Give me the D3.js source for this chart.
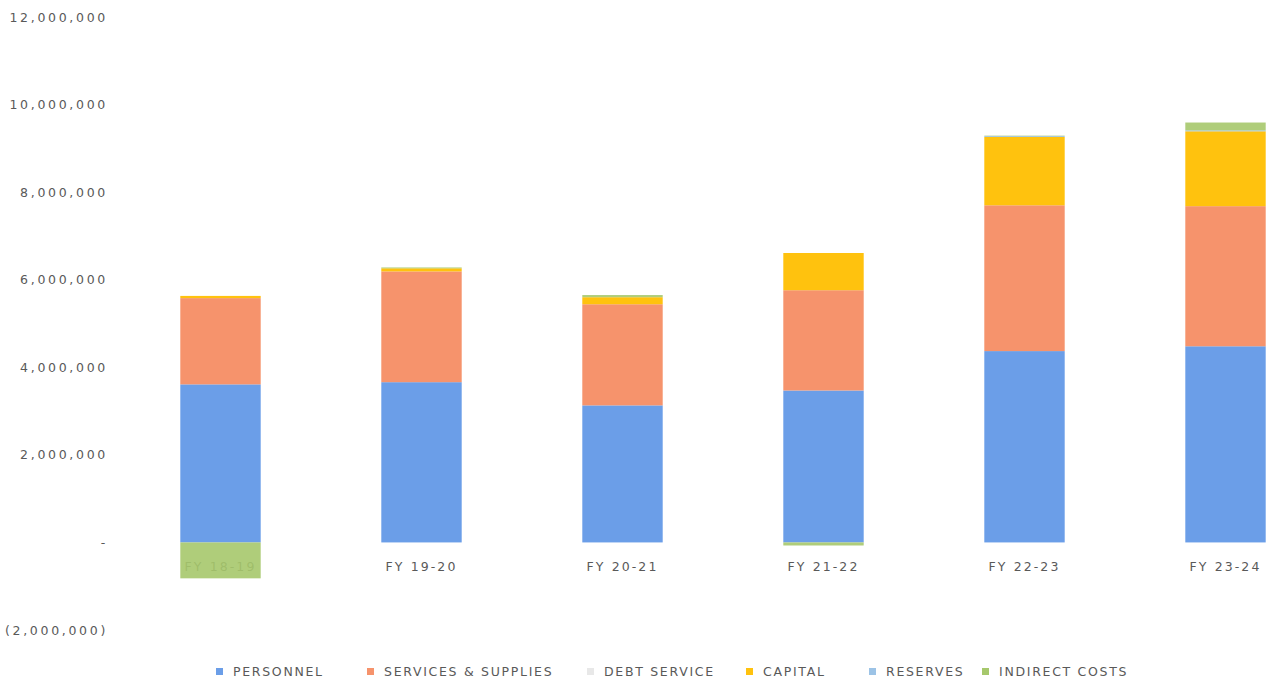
<!DOCTYPE html>
<html>
<head>
<meta charset="utf-8">
<script src="https://cdn.jsdelivr.net/npm/d3@7"></script>
<style>
  html, body { margin: 0; padding: 0; background: #fff; }
  svg { display: block; }
  text { font-family: "DejaVu Sans", Verdana, sans-serif; fill: #595959; }
</style>
</head>
<body>
<svg id="chart" width="1268" height="683"></svg>
<script>
// ---- data ----
const categories = ["FY 18-19", "FY 19-20", "FY 20-21", "FY 21-22", "FY 22-23", "FY 23-24"];
const seriesNames = ["PERSONNEL", "SERVICES & SUPPLIES", "DEBT SERVICE", "CAPITAL", "RESERVES", "INDIRECT COSTS"];
const personnel = [3610000, 3660000, 3130000, 3470000, 4370000, 4480000];
const servicesSupplies = [1970000, 2530000, 2310000, 2290000, 3330000, 3200000];
const debtService = [0, 0, 0, 0, 0, 0];
const capital = [50000, 70000, 160000, 850000, 1560000, 1710000];
const reserves = [0, 0, 0, 0, 20000, 20000];
const indirectCosts = [-820000, 20000, 50000, -70000, 10000, 180000];
const yTicks = [-2000000, 0, 2000000, 4000000, 6000000, 8000000, 10000000, 12000000];
const colors = ["#6b9ee8", "#f6936c", "#e8e8e8", "#ffc20e", "#9cc3e6", "#a6c86c"];

// layout (legend marker left edges)
const legendX = [216, 367, 587, 746, 869, 982];

const seriesValues = [personnel, servicesSupplies, debtService, capital, reserves, indirectCosts];
const rows = categories.map((c, i) => {
  const r = { cat: c };
  seriesNames.forEach((s, j) => r[s] = seriesValues[j][i]);
  return r;
});

const svg = d3.select("#chart");
const x = d3.scaleBand().domain(categories).range([120, 1326]).paddingInner(0.6).paddingOuter(0.3);
const y = d3.scaleLinear().domain([-2000000, 12000000]).range([630, 17]);

const stack = d3.stack().keys(seriesNames).offset(d3.stackOffsetDiverging);
const stacked = stack(rows);

// y axis labels
const fmt = v => v === 0 ? "-" : (v < 0 ? "(" + d3.format(",")(-v) + ")" : d3.format(",")(v));
const yAxis = d3.axisLeft(y).tickValues(yTicks).tickFormat(fmt).tickSize(0).tickPadding(0);
const ya = svg.append("g").attr("transform", "translate(108,0)").call(yAxis);
ya.select(".domain").remove();
ya.selectAll("text")
  .style("font-family", '"DejaVu Sans", Verdana, sans-serif')
  .style("font-size", "12.5px")
  .style("letter-spacing", "2.7px")
  .attr("fill", "#606060");

// category labels (drawn before bars so the negative bar covers its label)
const xAxis = d3.axisBottom(x).tickSize(0).tickPadding(0);
const xa = svg.append("g").attr("transform", "translate(0,562)").call(xAxis);
xa.select(".domain").remove();
xa.selectAll("text")
  .style("font-family", '"DejaVu Sans", Verdana, sans-serif')
  .style("font-size", "12.5px")
  .style("letter-spacing", "2.1px")
  .attr("fill", "#595959");

// bars
svg.append("g").selectAll("g")
  .data(stacked)
  .join("g")
  .attr("fill", (d, i) => colors[i])
  .attr("fill-opacity", (d, i) => i === 5 ? 0.9 : 1)
  .selectAll("rect")
  .data(d => d)
  .join("rect")
  .attr("x", d => x(d.data.cat))
  .attr("width", x.bandwidth())
  .attr("y", d => y(Math.max(d[0], d[1])))
  .attr("height", d => Math.abs(y(d[0]) - y(d[1])));

// legend
const lg = svg.append("g").attr("transform", "translate(0,672)");
seriesNames.forEach((s, i) => {
  const cx = legendX[i];
  lg.append("rect").attr("x", cx).attr("y", -4).attr("width", 7).attr("height", 7).attr("fill", colors[i]);
  lg.append("text").attr("x", cx + 17).attr("y", 0).attr("dy", "0.35em")
    .style("font-size", "12.5px").style("letter-spacing", "1.7px")
    .attr("fill", "#595959").text(s);
});
</script>
</body>
</html>
